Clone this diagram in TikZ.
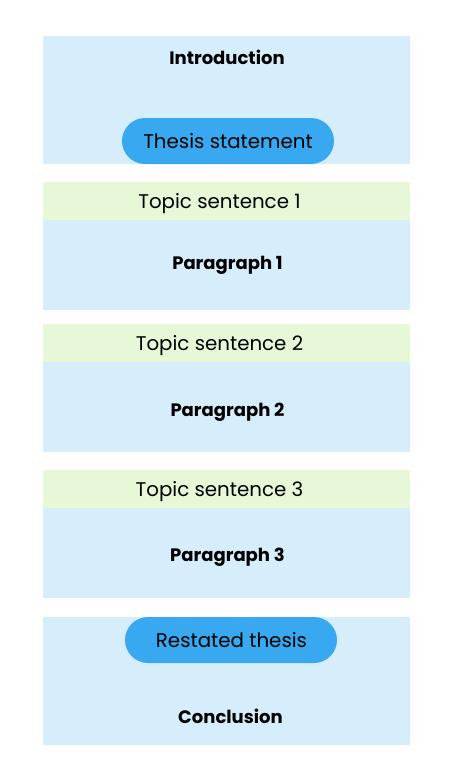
\documentclass[tikz,border=0pt]{standalone}
\usepackage{fontspec}
\setmainfont{Poppins}
\definecolor{boxblue}{HTML}{D6EDFB}
\definecolor{topicgreen}{HTML}{E6F8D6}
\definecolor{pillblue}{HTML}{38A9F0}
\tikzset{
  sect/.style={fill=boxblue, draw=none},
  topicband/.style={fill=topicgreen, draw=none},
  pill/.style={fill=pillblue, draw=none, rounded corners=23pt},
  boldlbl/.style={font=\fontsize{18}{21}\selectfont\bfseries, inner sep=0pt},
  reglbl/.style={font=\fontsize{19.8}{23}\selectfont, inner sep=0pt},
}
\begin{document}
\begin{tikzpicture}[x=1pt,y=-1pt]
\useasboundingbox (0,0) rectangle (453,761);
% Introduction
\fill[sect] (43,36) rectangle (410,164);
\fill[pill] (122,118) rectangle (334,164);
\node[boldlbl] (intro) at (227,57) {Introduction};
\node[reglbl] (thesis) at (228,141.5) {Thesis statement};
% Paragraph 1
\fill[topicband] (43,182) rectangle (410,220);
\fill[sect] (43,220) rectangle (410,310);
\node[reglbl] (t1) at (219.5,203.5) {Topic sentence 1};
\node[boldlbl] (p1) at (227.5,265) {Paragraph 1};
% Paragraph 2
\fill[topicband] (43,324) rectangle (410,362);
\fill[sect] (43,362) rectangle (410,452);
\node[reglbl] (t2) at (219.5,345.5) {Topic sentence 2};
\node[boldlbl] (p2) at (227.5,412.5) {Paragraph 2};
% Paragraph 3
\fill[topicband] (43,470) rectangle (410,508);
\fill[sect] (43,508) rectangle (410,598);
\node[reglbl] (t3) at (219.5,491.5) {Topic sentence 3};
\node[boldlbl] (p3) at (227.5,557.5) {Paragraph 3};
% Conclusion
\fill[sect] (43,617) rectangle (410,745);
\fill[pill] (125,617) rectangle (337,663);
\node[reglbl] (restated) at (231.5,640.5) {Restated thesis};
\node[boldlbl] (concl) at (230.5,716) {Conclusion};
\end{tikzpicture}
\end{document}
